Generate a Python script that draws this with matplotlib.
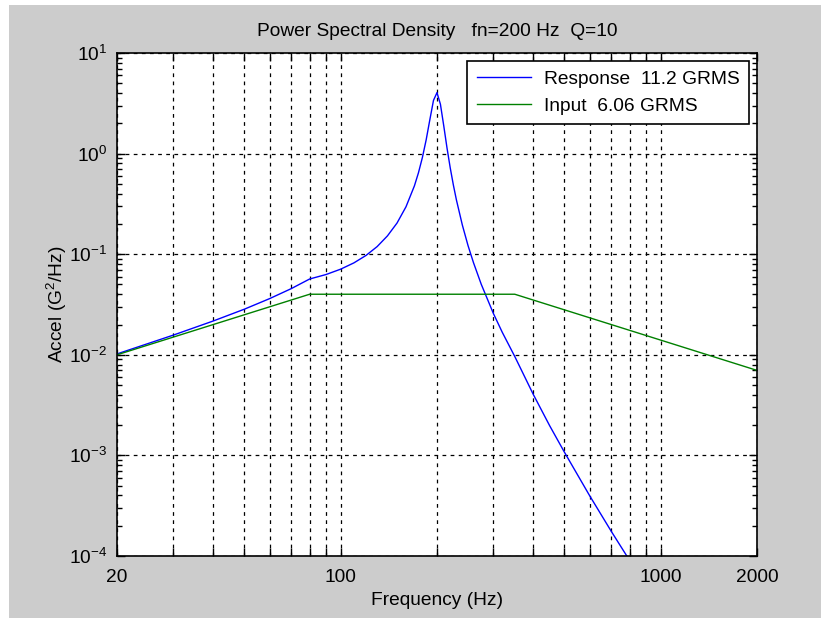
import matplotlib.pyplot as plt
from matplotlib.patches import Rectangle
from matplotlib.ticker import FixedLocator, NullFormatter, LogLocator

plt.rcParams['font.family'] = ['Liberation Sans', 'DejaVu Sans']
plt.rcParams['mathtext.fontset'] = 'custom'
plt.rcParams['mathtext.rm'] = 'Liberation Sans'
plt.rcParams['mathtext.it'] = 'Liberation Sans'

# Input PSD breakpoints (G^2/Hz)
input_freq = [20, 80, 350, 2000]
input_psd = [0.01, 0.04, 0.04, 0.007]

# Response PSD
resp_freq = [20, 30, 40, 50, 60, 70, 80, 90, 100, 110, 120, 130, 140, 150, 160,
             170, 175, 180, 185, 190, 195, 200, 205, 210, 215, 220, 225, 230,
             240, 250, 260, 275, 300, 320, 350, 400, 450, 500, 600, 700, 800]
resp_psd = [0.0102, 0.0157, 0.0217, 0.0284, 0.0362, 0.0454, 0.0567, 0.0628,
            0.0710, 0.0820, 0.0972, 0.119, 0.152, 0.204, 0.296, 0.478, 0.644,
            0.912, 1.37, 2.18, 3.38, 4.04, 3.09, 1.88, 1.13, 0.720, 0.487,
            0.346, 0.195, 0.122, 0.0825, 0.0502, 0.0258, 0.0167, 0.00962,
            0.00403, 0.00197, 0.00108, 0.000397, 0.000177, 0.0000902]

resp_label = "Response  11.2 GRMS"
input_label = "Input  6.06 GRMS"

x_major = [20, 100, 1000, 2000]
x_minor = [30, 40, 50, 60, 70, 80, 90, 200, 300, 400, 500, 600, 700, 800, 900]

fs = 13.8

fig = plt.figure(figsize=(8.21, 6.20), dpi=100, facecolor='white')
# gray window background with thin white margin
fig.patches.append(Rectangle((9 / 821, 2 / 620), 1 - 9 / 821, 613 / 620,
                             transform=fig.transFigure, facecolor='#cccccc',
                             edgecolor='none', zorder=-10))

ax = fig.add_axes([117 / 821, 64 / 620, 640 / 821, 503 / 620])
ax.plot(resp_freq, resp_psd, color='#0000ff', lw=1.0, label=resp_label)
ax.plot(input_freq, input_psd, color='#008000', lw=1.0, label=input_label)

ax.set_xscale('log')
ax.set_yscale('log')
ax.set_xlim(20, 2000)
ax.set_ylim(1e-4, 10)

ax.xaxis.set_major_locator(FixedLocator(x_major))
ax.set_xticklabels([str(v) for v in x_major])
ax.xaxis.set_minor_locator(FixedLocator(x_minor))
ax.xaxis.set_minor_formatter(NullFormatter())
ax.yaxis.set_major_locator(LogLocator(base=10, numticks=10))
ax.yaxis.set_minor_locator(LogLocator(base=10, subs=range(2, 10), numticks=10))
ax.yaxis.set_minor_formatter(NullFormatter())

ax.tick_params(which='both', direction='in', top=True, right=True,
               labelsize=fs, colors='black')
ax.tick_params(which='major', length=6, width=1)
ax.tick_params(which='minor', length=3.5, width=1)
ax.tick_params(axis='x', which='minor', length=6)
ax.tick_params(axis='x', pad=9)
ax.tick_params(axis='y', pad=7)

grid_style = dict(color='black', linestyle=(0, (3, 3.5)), linewidth=0.9)
ax.grid(True, which='major', **grid_style)
ax.grid(True, which='minor', axis='x', **grid_style)

for s in ax.spines.values():
    s.set_linewidth(1.2)

ax.set_title("Power Spectral Density   fn=200 Hz  Q=10", fontsize=fs, pad=12)
ax.set_xlabel("Frequency (Hz)", fontsize=fs, labelpad=5)
ax.set_ylabel("Accel (G$^2$/Hz)", fontsize=fs, labelpad=0)

leg = ax.legend(loc='upper right', fontsize=fs, fancybox=False,
                framealpha=1, edgecolor='black', handlelength=2.8,
                borderaxespad=0.4, labelspacing=0.5, borderpad=0.5,
                handletextpad=0.7)
leg.get_frame().set_linewidth(1.2)

fig.savefig("out.png", dpi=100, facecolor=fig.get_facecolor())
